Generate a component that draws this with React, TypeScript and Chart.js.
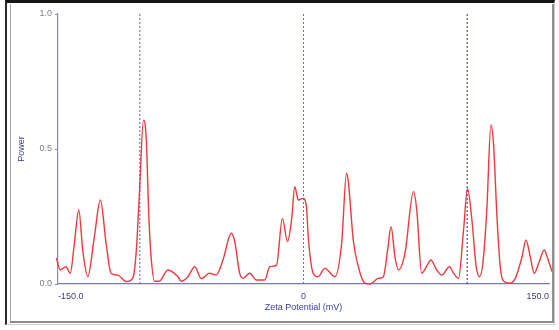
import React, { useEffect, useRef } from "react";
import { Chart, registerables } from "chart.js";

Chart.register(...registerables);

const zetaPotential = [
  -151, -148.6, -145.1, -142.5, -140.0, -137.3, -134.9, -131.8, -127.8, -124.1, -120.6, -117.6,
  -113.5, -108.4, -104.3, -102.2, -100.2, -97.8, -96.1, -94.5, -93.1, -91.0, -88.2, -82.8,
  -76.7, -74.7, -70.6, -66.5, -62.4, -57.4, -53.3, -49.2, -44.1, -42.0, -39.0, -36.9, -32.9,
  -28.8, -23.7, -20.6, -16.5, -12.9, -9.8, -7.3, -5.3, -3.2, -0.2, 1.8, 2.9, 5.9, 9.0, 13.0,
  19.2, 23.3, 26.3, 27.4, 30.4, 33.5, 37.5, 40.6, 45.7, 48.8, 51.4, 53.5, 55.9, 58.0, 62.0,
  67.2, 69.2, 72.2, 76.3, 77.8, 81.4, 84.5, 89.2, 91.7, 94.7, 97.8, 100.2, 102.9, 105.5,
  107.6, 109.6, 112.0, 114.5, 116.1, 118.2, 120.2, 122.3, 126.3, 129.4, 133.5, 135.9, 138.6,
  141.0, 143.7, 147.1, 149.2, 151.8,
];

const power = [
  0.096, 0.052, 0.064, 0.04, 0.15, 0.274, 0.126, 0.027, 0.175, 0.311, 0.15, 0.04,
  0.033, 0.009, 0.022, 0.12, 0.34, 0.607, 0.54, 0.25, 0.1, 0.01, 0.01, 0.052,
  0.027, 0.01, 0.027, 0.064, 0.02, 0.04, 0.033, 0.089, 0.188, 0.157, 0.04, 0.021, 0.04,
  0.015, 0.015, 0.064, 0.07, 0.243, 0.157, 0.237, 0.36, 0.311, 0.317, 0.286, 0.175, 0.04, 0.027, 0.058,
  0.027, 0.15, 0.41, 0.379, 0.163, 0.064, 0.003, 0.0, 0.021, 0.027, 0.126, 0.212, 0.1, 0.052, 0.114,
  0.342, 0.274, 0.04, 0.077, 0.089, 0.052, 0.033, 0.064, 0.04, 0.021, 0.2, 0.354, 0.237, 0.064,
  0.027, 0.077, 0.274, 0.589, 0.52, 0.25, 0.064, 0.01, 0.003, 0.021, 0.1, 0.163, 0.1,
  0.04, 0.077, 0.126, 0.095, 0.046,
];

const markerPositions = [-100, 0, 100];
const markerColors = ["#5a5ab8", "#6a6ac4", "#2e2ea2"];

const xTickValues = [-150, 0, 150];
const xTickLabels = ["-150.0", "0", "150.0"];
const yTickValues = [0, 0.5, 1];
const yTickLabels = ["0.0", "0.5", "1.0"];

export default function App() {
  const canvasRef = useRef<HTMLCanvasElement>(null);

  useEffect(() => {
    const canvas = canvasRef.current;
    if (!canvas) return;

    const curve = zetaPotential.map((x, i) => ({ x, y: power[i] }));
    const markerSets = markerPositions.map((m, i) => ({
      data: [
        { x: m, y: 0 },
        { x: m, y: 1 },
      ],
      borderColor: markerColors[i],
      borderWidth: 1,
      borderDash: [2, 2],
      pointRadius: 0,
      fill: false,
      tension: 0,
    }));

    const chart = new Chart(canvas, {
      type: "line",
      data: {
        datasets: [
          ...markerSets,
          {
            data: curve,
            borderColor: "#ec3a3e",
            borderWidth: 1.4,
            pointRadius: 0,
            fill: false,
            cubicInterpolationMode: "monotone",
            clip: 6,
          } as any,
        ],
      },
      options: {
        animation: false,
        responsive: false,
        maintainAspectRatio: false,
        devicePixelRatio: 1,
        layout: { padding: { top: 14, right: 10, left: 0, bottom: 0 } },
        plugins: { legend: { display: false }, tooltip: { enabled: false } },
        scales: {
          x: {
            type: "linear",
            min: -150,
            max: 150,
            afterBuildTicks: (scale: any) => {
              scale.ticks = xTickValues.map((v) => ({ value: v }));
            },
            afterFit: (scale: any) => {
              scale.height = 46;
            },
            grid: { display: false, drawTicks: false },
            border: { display: true, color: "#7878c0", width: 1.2 },
            ticks: {
              autoSkip: false,
              maxRotation: 0,
              align: "inner",
              padding: 7,
              color: "#3c3c6e",
              font: { family: "Liberation Sans", size: 9 },
              callback: (_v: any, i: number) => xTickLabels[i],
            },
            title: {
              display: true,
              text: "Zeta Potential (mV)",
              color: "#3a3a9c",
              font: { family: "Liberation Sans", size: 9 },
              padding: { top: 0, bottom: 17 },
            },
          },
          y: {
            min: 0,
            max: 1,
            afterBuildTicks: (scale: any) => {
              scale.ticks = yTickValues.map((v) => ({ value: v }));
            },
            afterFit: (scale: any) => {
              scale.width = 58;
            },
            grid: {
              display: true,
              drawOnChartArea: false,
              drawTicks: true,
              tickLength: 3,
              color: "#8a8ab8",
            },
            border: { display: true, color: "#8a8ab8", width: 1.2 },
            ticks: {
              padding: 3,
              color: "#808080",
              font: { family: "Liberation Sans", size: 9 },
              callback: (_v: any, i: number) => yTickLabels[i],
            },
            title: {
              display: true,
              text: "Power",
              color: "#3a3a9c",
              font: { family: "Liberation Sans", size: 9 },
              padding: { top: 16, bottom: 0 },
            },
          },
        },
      },
    });

    return () => chart.destroy();
  }, []);

  return (
    <div
      style={{
        position: "absolute",
        left: 0,
        top: 0,
        width: 559,
        height: 330,
        background: "#ffffff",
        overflow: "hidden",
      }}
    >
      <div
        style={{
          position: "absolute",
          left: 5,
          top: 0,
          width: 550,
          height: 325,
          boxSizing: "border-box",
          borderTop: "3px solid #151515",
          borderLeft: "2px solid #2a2a2a",
          borderRight: "1px solid #c8c8c8",
          borderBottom: "1px solid #d0d0d0",
        }}
      />
      <div
        style={{
          position: "absolute",
          left: 10,
          top: 4,
          width: 544,
          height: 319,
          boxSizing: "border-box",
          borderLeft: "1px solid #a0a0a0",
          borderRight: "2px solid #909090",
          borderBottom: "2px solid #8a8a8a",
        }}
      />
      <canvas
        ref={canvasRef}
        width={559}
        height={330}
        style={{ position: "absolute", left: 0, top: 0, width: 559, height: 330 }}
      />
    </div>
  );
}
